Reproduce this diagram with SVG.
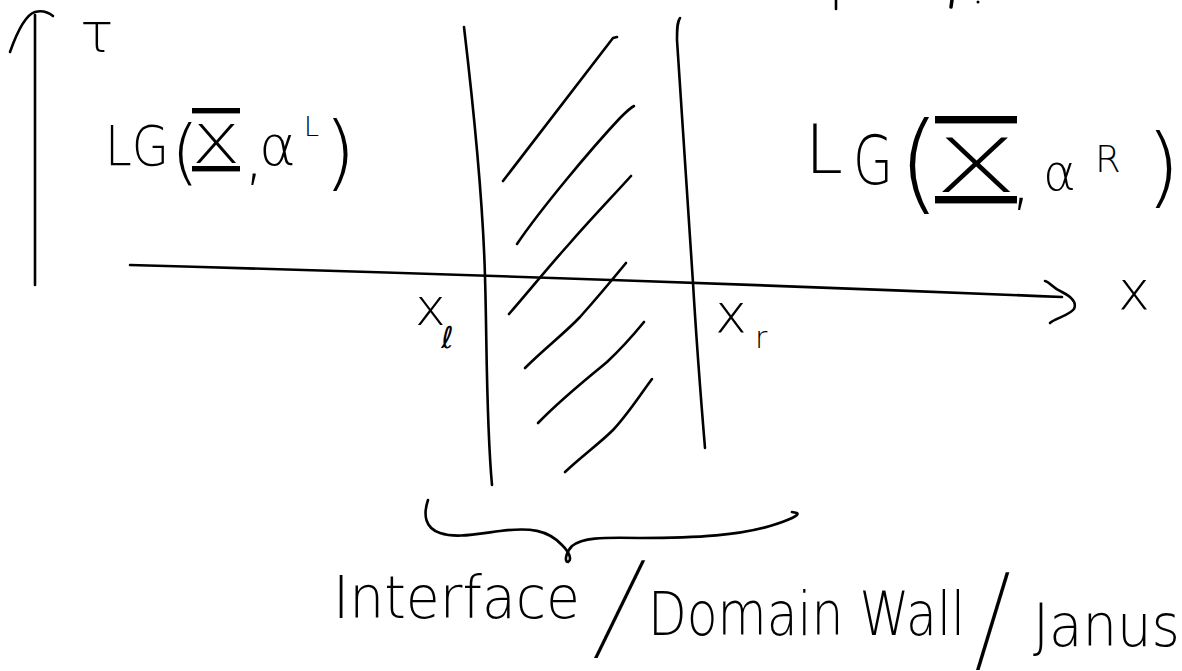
<svg xmlns="http://www.w3.org/2000/svg" width="1182" height="671" viewBox="0 0 1182 671">
<style>
.s{fill:none;stroke:#000;stroke-width:2.6;stroke-linecap:round;stroke-linejoin:round}
.t{font-family:"DejaVu Sans","Liberation Sans",sans-serif;font-weight:200;fill:#000}
.bx{text-decoration:underline overline;text-decoration-thickness:2.5px}
</style>
<rect width="1182" height="671" fill="#fff"/>
<g id="connectors">
  <g id="tau-axis">
    <path class="s" d="M35,15 L35,285"/>
    <path class="s" d="M10,52 C16,35 25,15 35,12 C42,10 48,12 53,16"/>
  </g>
  <g id="x-axis">
    <path class="s" d="M130,265 Q600,278 1062,297"/>
    <path class="s" d="M1045,281 C1050,282 1052,288 1062,292 C1072,297 1077,303 1074,309 C1068,316 1056,318 1050,323"/>
  </g>
</g>
<g id="wall-left">
  <path class="s" d="M464,27 C475,120 483,200 485,277 C487,340 486,420 492,485"/>
</g>
<g id="wall-right">
  <path class="s" d="M680,18 C677,22 677,30 677,40 C683,140 690,230 693,283 C697,350 701,400 705,448"/>
</g>
<g id="hatching">
  <path class="s" d="M503,181 L613,38 L617,37"/>
  <path class="s" d="M517,244 C540,210 590,150 620,118 C626,112 630,108 634,106"/>
  <path class="s" d="M509,314 C530,290 550,265 570,243 C590,220 612,197 631,176"/>
  <path class="s" d="M525,368 C545,348 565,333 580,317 C597,298 612,280 626,263"/>
  <path class="s" d="M538,423 C560,400 585,380 607,362 C622,348 635,333 644,322"/>
  <path class="s" d="M565,472 C582,456 600,443 613,430 C628,414 640,395 652,379"/>
</g>
<g id="top-marks">
  <path class="s" d="M836,0 L836,9"/>
  <path class="s" d="M952,0 L951,7" style="stroke-width:3.5"/>
  <circle cx="978" cy="2" r="1.5" fill="#000"/>
</g>
<g id="brace">
  <path class="s" d="M428,500 C423,515 425,528 440,533 C455,538 470,535 500,531 C530,527 548,530 562,545 C570,553 572,560 568,562 C564,562 566,552 572,546 C582,538 600,537 640,538 C700,538 740,535 770,526 C790,520 800,515 797,513 L792,512"/>
</g>
<g id="label-tau">
  <text class="t" x="80" y="52" font-size="56">τ</text>
</g>
<g id="label-left">
  <text class="t" font-size="56"><tspan x="105" y="165" textLength="64" lengthAdjust="spacingAndGlyphs">LG</tspan><tspan x="171" y="176" font-size="72">(</tspan><tspan class="bx" x="192" y="163" font-size="54" textLength="48" lengthAdjust="spacingAndGlyphs">X</tspan><tspan x="244" y="178" font-size="64">,</tspan><tspan x="259" y="165">α</tspan><tspan x="304" y="136" font-size="27">L</tspan><tspan x="324" y="180" font-size="82">)</tspan></text>
</g>
<g id="label-right">
  <text class="t" font-size="68"><tspan x="805" y="173">L</tspan><tspan x="853" y="184" textLength="40" lengthAdjust="spacingAndGlyphs">G</tspan><tspan x="898" y="200" font-size="108">(</tspan><tspan class="bx" x="935" y="192" font-size="74" textLength="82" lengthAdjust="spacingAndGlyphs">X</tspan><tspan x="1010" y="202" font-size="70">,</tspan><tspan x="1043" y="190" font-size="50">α</tspan><tspan x="1095" y="172" font-size="37">R</tspan><tspan x="1146" y="196" font-size="88">)</tspan></text>
</g>
<g id="label-x">
  <text class="t" x="1118" y="309" font-size="54">x</text>
</g>
<g id="label-xl">
  <text class="t" font-size="52"><tspan x="415" y="325">x</tspan><tspan x="441" y="348" font-size="30" style="font-weight:400">ℓ</tspan></text>
</g>
<g id="label-xr">
  <text class="t" font-size="54"><tspan x="715" y="332">x</tspan><tspan x="755" y="348" font-size="30">r</tspan></text>
</g>
<g id="label-interface">
  <text class="t" x="333" y="618" font-size="58" textLength="247" lengthAdjust="spacingAndGlyphs">Interface</text>
  <text class="t" transform="translate(593,658) skewX(-17) scale(1,1.7)" x="0" y="-6.5" font-size="70">/</text>
  <text class="t" x="648" y="635" font-size="60" textLength="317" lengthAdjust="spacingAndGlyphs">Domain Wall</text>
  <text class="t" transform="translate(975,670) skewX(-7) scale(1,1.7)" x="0" y="-6.5" font-size="70">/</text>
  <text class="t" x="1033" y="646" font-size="58" textLength="147" lengthAdjust="spacingAndGlyphs">Janus</text>
</g>
</svg>
